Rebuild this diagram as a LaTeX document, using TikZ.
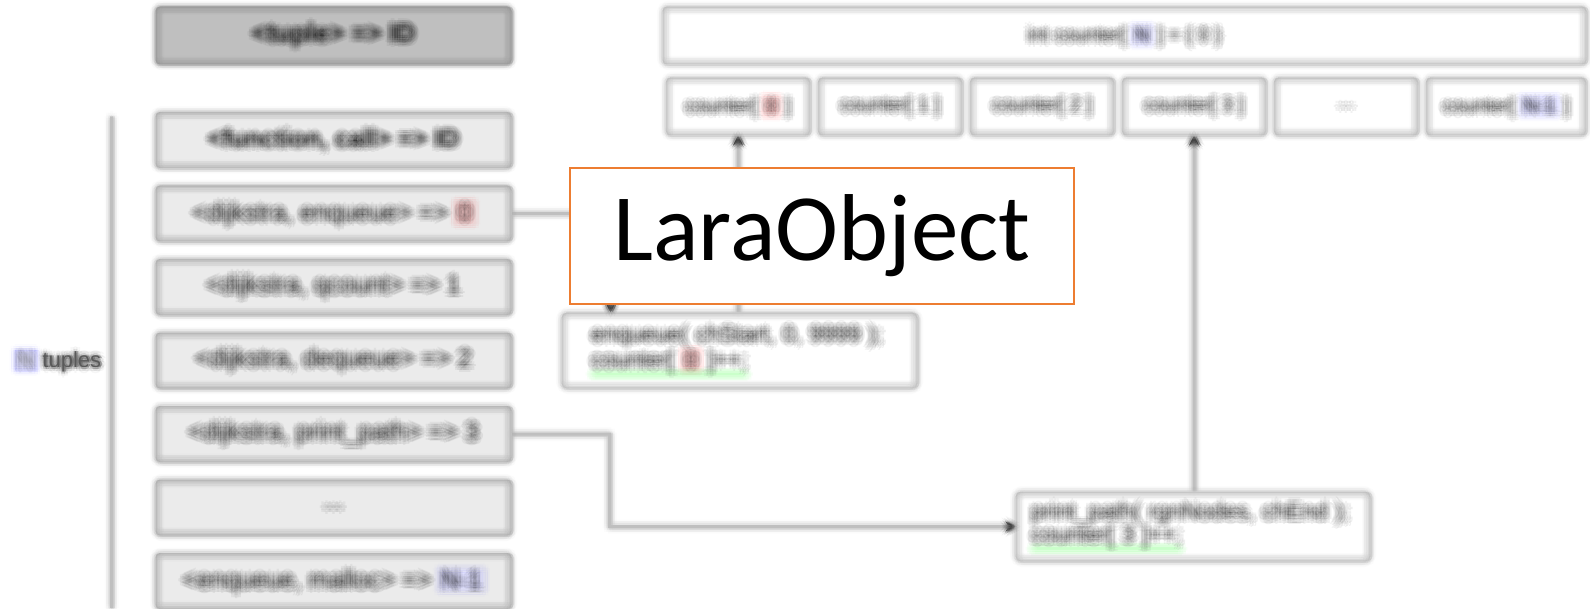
\documentclass[tikz,border=0pt]{standalone}
\usepackage{fontspec}
\setmainfont{Liberation Sans}
\newfontfamily\larafont{Carlito}
\usepackage{tikz}
\usetikzlibrary{arrows.meta, calc, positioning}
\definecolor{laraorange}{HTML}{ED7D31}
\tikzstyle{tuplehead} = [rectangle, rounded corners=1.5pt, line width=1.5pt, minimum width=176.5pt, minimum height=27.5pt, text centered, draw=black!40, fill=black!25, font=\fontsize{13}{15}\selectfont\bfseries]
\tikzstyle{tuple} = [rectangle, rounded corners=1.5pt, line width=1.5pt, minimum width=176.5pt, minimum height=26.5pt, text centered, draw=black!32, fill=black!8, font=\fontsize{12.5}{15}\selectfont]
\tikzstyle{counter} = [rectangle, rounded corners=1.5pt, line width=1.5pt, minimum width=70.5pt, minimum height=27.5pt, text centered, draw=black!27, fill=white, font=\fontsize{10}{12}\selectfont]
\tikzstyle{code} = [rectangle, rounded corners=2pt, line width=1.5pt, align=left, draw=black!27, fill=white, font=\fontsize{11.5}{11.5}\selectfont]
\tikzstyle{larabox} = [rectangle, line width=1pt, minimum width=252pt, minimum height=68pt, text centered, draw=laraorange, fill=white, font=\larafont\fontsize{47.5}{50}\selectfont]
\tikzstyle{connector} = [line width=1.5pt, draw=black!25]
\tikzstyle{arrow} = [line width=1.5pt, draw=black!25, -{Stealth[length=5pt, width=5pt, color=black!80]}]
\newcommand{\redmark}[1]{{\setlength{\fboxsep}{1pt}\fcolorbox{red!45}{red!18}{#1}}}
\newcommand{\bluemark}[1]{{\setlength{\fboxsep}{1pt}\fcolorbox{blue!30}{blue!12}{#1}}}
\newsavebox{\ulbox}
\newcommand{\greenul}[1]{\leavevmode\mbox{\sbox{\ulbox}{#1}\rlap{\color{green!45}\rule[-4pt]{\wd\ulbox}{1.6pt}}\usebox{\ulbox}}}

\begin{document}
\begin{tikzpicture}[x=0.5pt, y=-0.5pt, node distance=8.75pt]
	\useasboundingbox (0,0) rectangle (1590,609);

	% table and counters, drawn many times slightly shifted and averaged (soft look)
	\foreach \dx/\dy [count=\i] in {0/0,
		2/0, 1/1.73, -1/1.73, -2/0, -1/-1.73, 1/-1.73,
		3.7/1.53, 1.53/3.7, -1.53/3.7, -3.7/1.53, -3.7/-1.53, -1.53/-3.7, 1.53/-3.7, 3.7/-1.53,
		5.5/0, 3.9/3.9, 0/5.5, -3.9/3.9, -5.5/0, -3.9/-3.9, 0/-5.5, 3.9/-3.9}{
		\pgfmathsetmacro{\op}{1/\i}
		\begin{scope}[shift={(\dx,\dy)}, opacity=\op, transparency group]
		\node (TupleHead) [tuplehead] at (333.5,35.5) {<tuple> => ID};
		\node (Tuple01) [tuple, font=\fontsize{12.5}{15}\selectfont\bfseries] at (333.5,140) {<function, call> => ID};
		\node (Tuple02) [tuple, below = of Tuple01] {<dijkstra, enqueue> => \redmark{0}};
		\node (Tuple03) [tuple, below = of Tuple02] {<dijkstra, qcount> => 1};
		\node (Tuple04) [tuple, below = of Tuple03] {<dijkstra, dequeue> => 2};
		\node (Tuple05) [tuple, below = of Tuple04] {<dijkstra, print\_path> => 3};
		\node (Tuple06) [tuple, below = of Tuple05] {...};
		\node (Tuple07) [tuple, below = of Tuple06] {<enqueue, malloc> => \bluemark{N-1}};
		\node (TupleCount) [text=black!65, font=\fontsize{11}{13}\selectfont] at (58,361) {\bluemark{N} tuples};
		\draw [connector] (111.5,116.5) -- (111.5,608);

		\node (CounterDecl) [counter, minimum width=460.5pt] at (1124.5,35.5) {int counter[ \bluemark{N} ] = \{ 0 \}};
		\node (Counter00) [counter] at (738,106.5) {counter[ \redmark{0} ]};
		\node (Counter01) [counter, right = 4pt of Counter00] {counter[ 1 ]};
		\node (Counter02) [counter, right = 4pt of Counter01] {counter[ 2 ]};
		\node (Counter03) [counter, right = 4pt of Counter02] {counter[ 3 ]};
		\node (Counter04) [counter, right = 4pt of Counter03] {...};
		\node (Counter05) [counter, right = 4pt of Counter04, minimum width=78.5pt] {counter[ \bluemark{N-1} ]};

		\node (Code01) [code, minimum width=176.5pt, minimum height=36.5pt, text width=148.5pt, inner xsep=14pt] at (739.5,350.5) {enqueue( chStart, 0, 9999 );\\\greenul{counter[ \redmark{0} ]++;}};
		\node (Code02) [code, minimum width=176pt, minimum height=33.5pt, text width=162pt, inner xsep=7pt] at (1193,526.5) {print\_path( rgnNodes, chEnd );\\\greenul{counter[ 3 ]++;}};

		\draw [arrow] (Tuple02.east) -| ($(Code01.north west) + (49,0)$);
		\draw [arrow] (Counter00.south |- Code01.north) -- (Counter00.south);
		\draw [arrow] (Tuple05.east) -- ++(98,0) |- (Code02.west);
		\draw [arrow] (Counter03.south |- Code02.north) -- (Counter03.south);
		\end{scope}
	}

	\node (LaraObj) [larabox] at (822,236) {LaraObject};
\end{tikzpicture}
\end{document}
